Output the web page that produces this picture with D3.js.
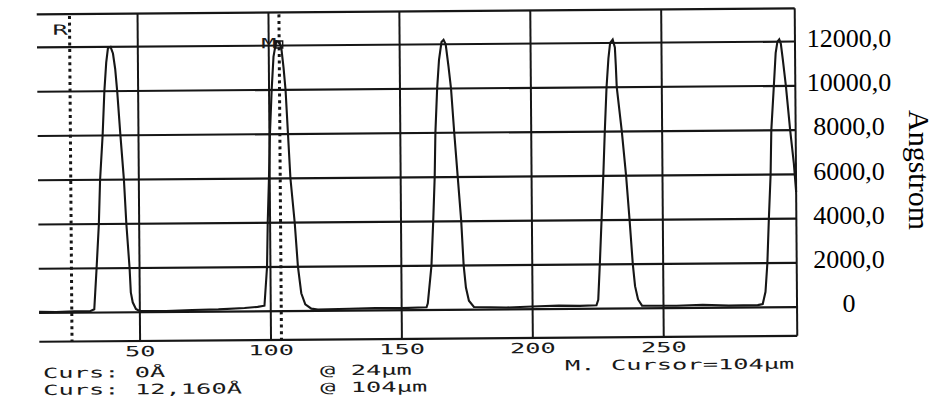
<!DOCTYPE html>
<html>
<head>
<meta charset="utf-8">
<script src="https://cdn.jsdelivr.net/npm/d3@7"></script>
<style>
  html, body { margin: 0; padding: 0; background: #fff; }
  svg { display: block; }
</style>
</head>
<body>
<svg id="chart" width="937" height="401"></svg>
<script>
// Scan range of the stylus (µm) and height range shown (Å)
const xDomain = [11.5, 301];
const yDomain = [-1300, 13500];

// Grid / tick values
const xTicks = [50, 100, 150, 200, 250];
const yTicks = [0, 2000, 4000, 6000, 8000, 10000, 12000];
const yTickLabels = ["0", "2000,0", "4000,0", "6000,0", "8000,0", "10000,0", "12000,0"];
const yAxisTitle = "Angstrom";

// Measured profile: lateral position (µm) and step height (Å)
const profileX = [
  11.5, 18, 25, 31, 32.6,
  33.6, 34.6, 35.2, 36.3, 37.1, 37.9, 38.6, 39.6, 40.5, 41.3, 42.0, 43.1, 44.3, 45.1, 46.2, 46.6, 47.3, 48.5, 50,
  60, 70, 80, 90, 95, 97.6,
  98.7, 99.1, 99.7, 100.2, 101.0, 101.8, 102.9, 104, 104.8, 105.6, 106.3, 107.1, 107.9, 109.4, 110.5, 111.7, 113.2, 115.5, 118,
  130, 140, 150, 159.5,
  160.0, 161.5, 162.3, 163.0, 163.4, 164.2, 165.0, 166.0, 166.8, 167.6, 168.6, 169.5, 170.6, 171.8, 173.0, 173.8, 174.6, 175.7, 177.6,
  190, 200, 210, 218, 224.4,
  225.1, 225.8, 226.6, 227.4, 228.1, 228.9, 229.7, 230.4, 231.4, 232.2, 232.5, 232.8, 234.6, 236.1, 237.3, 238.4, 239.2, 240.3, 241.8,
  255, 265, 275, 286, 287.9,
  289.0, 289.8, 290.5, 291.3, 291.7, 292.8, 293.6, 294.3, 295.0, 295.6, 296.3, 297.4, 298.9, 300.2, 301
];
const profileZ = [
  60, 40, 70, 60, 150,
  2000, 4000, 6000, 8000, 10000, 11300, 11950, 12000, 11700, 11000, 10000, 8000, 6000, 4000, 2000, 900, 450, 150, 50,
  40, 80, 100, 150, 200, 250,
  2000, 4000, 6000, 8000, 10000, 11500, 12200, 12160, 11900, 11000, 10000, 8000, 6000, 4000, 2000, 800, 300, 100, 60,
  80, 100, 90, 120,
  300, 2000, 4000, 6000, 8000, 10000, 11300, 12100, 12200, 12000, 11000, 10000, 8000, 6000, 4000, 2000, 1000, 400, 120,
  80, 120, 150, 130, 150,
  400, 2000, 4000, 6000, 8000, 10000, 11300, 12000, 12150, 11800, 11000, 10000, 8000, 6000, 4000, 2000, 1000, 400, 120,
  100, 130, 90, 100, 150,
  700, 2000, 4000, 6000, 8000, 10000, 11500, 12000, 12100, 11900, 11200, 10000, 8000, 6500, 5200
];

// Reference (R) and measurement (M) cursors
const cursorNames = ["R", "M"];
const cursorAt = [24, 104];          // µm
const cursorReading = [0, 12160];    // Å

const svg = d3.select("#chart");
const ink = "#161616";

const x = d3.scaleLinear().domain(xDomain).range([38, 796]);
const y = d3.scaleLinear().domain(yDomain).range([338.8, 11.3]);

// Printer output is slightly skewed on the sheet
const plot = svg.append("g").attr("transform", "rotate(-0.45, 417, 175)");

// Dot-matrix style text helper: wide monospace cells, ~15.3 px pitch
const dotSize = 14;
const pitchScale = 15.3 / (0.602 * dotSize);
function dotText(g, px, py, str, anchor) {
  return g.append("text")
    .attr("transform", `translate(${px},${py}) scale(${pitchScale},1)`)
    .attr("text-anchor", anchor || "start")
    .attr("font-family", "DejaVu Sans Mono, Liberation Mono, monospace")
    .attr("font-size", dotSize)
    .attr("fill", "#1a1a1a")
    .text(str);
}

// Horizontal grid lines (height axis) plus top/bottom frame
const [x0, x1] = x.range();
plot.append("g").selectAll("line")
  .data(yTicks.concat(yDomain))
  .join("line")
  .attr("x1", x0).attr("x2", x1)
  .attr("y1", d => y(d)).attr("y2", d => y(d))
  .attr("stroke", ink).attr("stroke-width", 2.2);

// Vertical grid lines at the µm ticks plus right frame
plot.append("g").selectAll("line")
  .data(xTicks.concat([xDomain[1]]))
  .join("line")
  .attr("x1", d => x(d)).attr("x2", d => x(d))
  .attr("y1", y(yDomain[1])).attr("y2", y(yDomain[0]))
  .attr("stroke", ink).attr("stroke-width", 2);

// X tick labels under the frame
xTicks.forEach(t => dotText(plot, x(t), 354, String(t), "middle"));

// Profile trace
const line = d3.line()
  .x((d, i) => x(profileX[i]))
  .y(d => y(d));
plot.append("path")
  .attr("d", line(profileZ))
  .attr("fill", "none")
  .attr("stroke", ink)
  .attr("stroke-width", 2.1)
  .attr("stroke-linejoin", "miter");

// Cursor lines (dotted)
plot.append("g").selectAll("line")
  .data(cursorAt)
  .join("line")
  .attr("x1", d => x(d)).attr("x2", d => x(d))
  .attr("y1", y(yDomain[1]) + 2).attr("y2", y(yDomain[0]))
  .attr("stroke", ink).attr("stroke-width", 3)
  .attr("stroke-dasharray", "3,3.6");

// Cursor names
dotText(plot, x(cursorAt[0]) - 17, 32, cursorNames[0]);
dotText(plot, x(cursorAt[1]) - 18, 47, cursorNames[1]);

// Marker where the M cursor meets the trace
plot.append("rect")
  .attr("x", x(cursorAt[1]) - 3.5).attr("y", y(cursorReading[1]) - 1)
  .attr("width", 7).attr("height", 7)
  .attr("fill", "none").attr("stroke", ink).attr("stroke-width", 1.5);

// Cursor read-out lines
const fmt = d3.format(",");
dotText(plot, 41.5, 375, `Curs: ${fmt(cursorReading[0])}Å`);
dotText(plot, 41.5, 392, `Curs: ${fmt(cursorReading[1])}Å`);
dotText(plot, 318.5, 374.5, `@ ${cursorAt[0]}µm`);
dotText(plot, 318.5, 391.5, `@ ${cursorAt[1]}µm`);
dotText(plot, 563.5, 371.5, `M. Cursor=${cursorAt[1]}µm`);

// Height labels on the right
svg.append("g").selectAll("text")
  .data(yTicks)
  .join("text")
  .attr("x", 849)
  .attr("y", d => y(d) + 2.4)
  .attr("text-anchor", "middle")
  .attr("font-family", "Liberation Serif, Times New Roman, serif")
  .attr("font-size", 26)
  .attr("fill", "#000")
  .text((d, i) => yTickLabels[i]);

svg.append("text")
  .attr("transform", "translate(909,170) rotate(90)")
  .attr("text-anchor", "middle")
  .attr("font-family", "Liberation Serif, Times New Roman, serif")
  .attr("font-size", 30)
  .attr("fill", "#000")
  .text(yAxisTitle);
</script>
</body>
</html>
